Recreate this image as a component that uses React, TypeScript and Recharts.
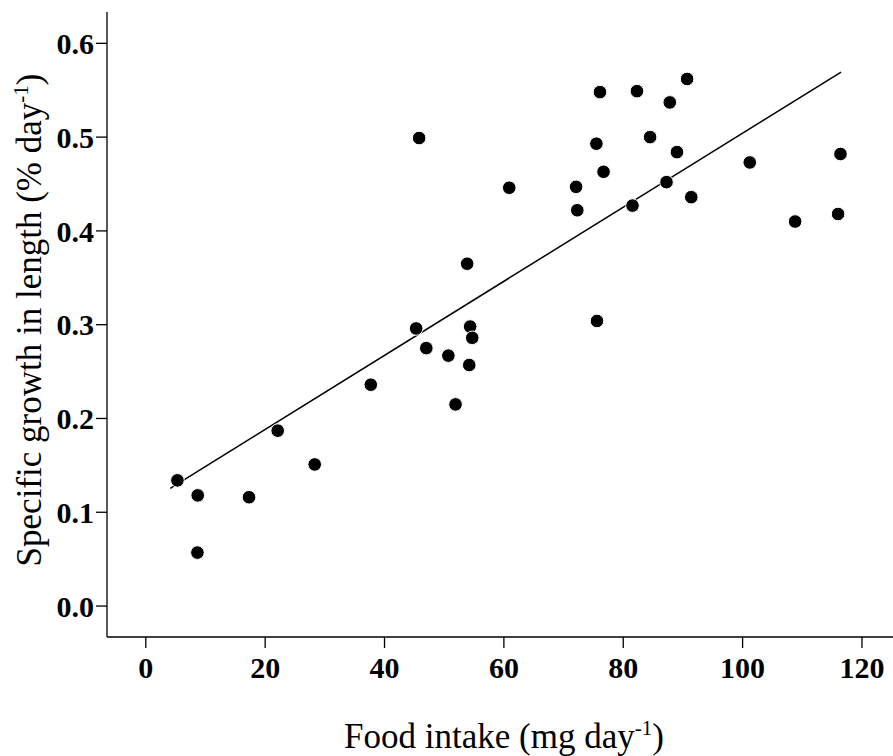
import React from 'react';
import { ScatterChart, Scatter, XAxis, YAxis, Label } from 'recharts';

const foodIntake = [
  5.3, 8.7, 8.65, 17.3, 22.1, 28.3, 37.7, 45.3, 45.8, 47.0, 50.7, 51.9,
  53.85, 54.35, 54.7, 54.2, 60.9, 72.1, 72.3, 75.5, 75.6, 76.1, 76.7,
  81.55, 82.3, 84.5, 87.25, 87.8, 89.0, 90.7, 91.4, 101.2, 108.8, 116.0, 116.4,
];
const growthLength = [
  0.134, 0.118, 0.057, 0.116, 0.187, 0.151, 0.236, 0.296, 0.499, 0.275, 0.267, 0.215,
  0.365, 0.298, 0.286, 0.257, 0.446, 0.447, 0.422, 0.493, 0.304, 0.548, 0.463,
  0.427, 0.549, 0.500, 0.452, 0.537, 0.484, 0.562, 0.436, 0.473, 0.410, 0.418, 0.482,
];
const fitX = [4.1, 116.5];
const fitY = [0.1255, 0.5694];
const xTicks = [0, 20, 40, 60, 80, 100, 120];
const yTicks = [0, 0.1, 0.2, 0.3, 0.4, 0.5, 0.6];

const points = foodIntake.map((x, i) => ({ x, y: growthLength[i] }));
const fitLine = fitX.map((x, i) => ({ x, y: fitY[i] }));

const FONT = '"Liberation Serif", "Times New Roman", serif';

const Dot = (props: any) => {
  const { cx, cy } = props;
  if (cx == null || cy == null) return <g />;
  return <circle cx={cx} cy={cy} r={6.8} fill="#000" stroke="#fff" strokeWidth={1} />;
};

const NoDot = () => <g />;

const XLabel = (props: any) => {
  const vb = props.viewBox || { x: 0, y: 0, width: 0, height: 0 };
  const cx = vb.x + vb.width / 2 + 4;
  const y = vb.y + 111;
  return (
    <text x={cx} y={y} textAnchor="middle" fontFamily={FONT} fontSize={35} fill="#000">
      Food intake (mg day
      <tspan dy={-13} fontSize={21}>-1</tspan>
      <tspan dy={13}>)</tspan>
    </text>
  );
};

const YLabel = () => {
  const x = 41;
  const y = 320;
  return (
    <text
      x={x}
      y={y}
      textAnchor="middle"
      transform={`rotate(-90, ${x}, ${y})`}
      fontFamily={FONT}
      fontSize={35}
      fill="#000"
    >
      Specific growth in length (% day
      <tspan dy={-13} fontSize={21}>-1</tspan>
      <tspan dy={13}>)</tspan>
    </text>
  );
};

export default function App() {
  return (
    <div style={{ position: 'absolute', left: 0, top: 0, background: '#fff' }}>
      <ScatterChart width={893} height={756} margin={{ top: 12, right: 0, bottom: 0, left: 0 }}>
        <XAxis
          type="number"
          dataKey="x"
          domain={[-6.5, 125.2]}
          ticks={xTicks}
          height={119}
          allowDataOverflow
          stroke="#000"
          strokeWidth={1.3}
          tickSize={11}
          tickMargin={9}
          tick={{ fontFamily: FONT, fontSize: 30, fontWeight: 'bold', fill: '#000' }}
        >
          <Label content={<XLabel />} />
        </XAxis>
        <YAxis
          type="number"
          dataKey="y"
          domain={[-0.033, 0.6334]}
          ticks={yTicks}
          width={107}
          allowDataOverflow
          stroke="#000"
          strokeWidth={1.3}
          tickSize={11}
          tickMargin={2}
          tickFormatter={(v: number) => v.toFixed(1)}
          tick={{ fontFamily: FONT, fontSize: 30, fontWeight: 'bold', fill: '#000' }}
        >
          <Label content={<YLabel />} />
        </YAxis>
        <Scatter
          data={fitLine}
          line={{ stroke: '#000', strokeWidth: 1.5 }}
          shape={<NoDot />}
          isAnimationActive={false}
        />
        <Scatter data={points} shape={<Dot />} isAnimationActive={false} />
      </ScatterChart>
    </div>
  );
}
